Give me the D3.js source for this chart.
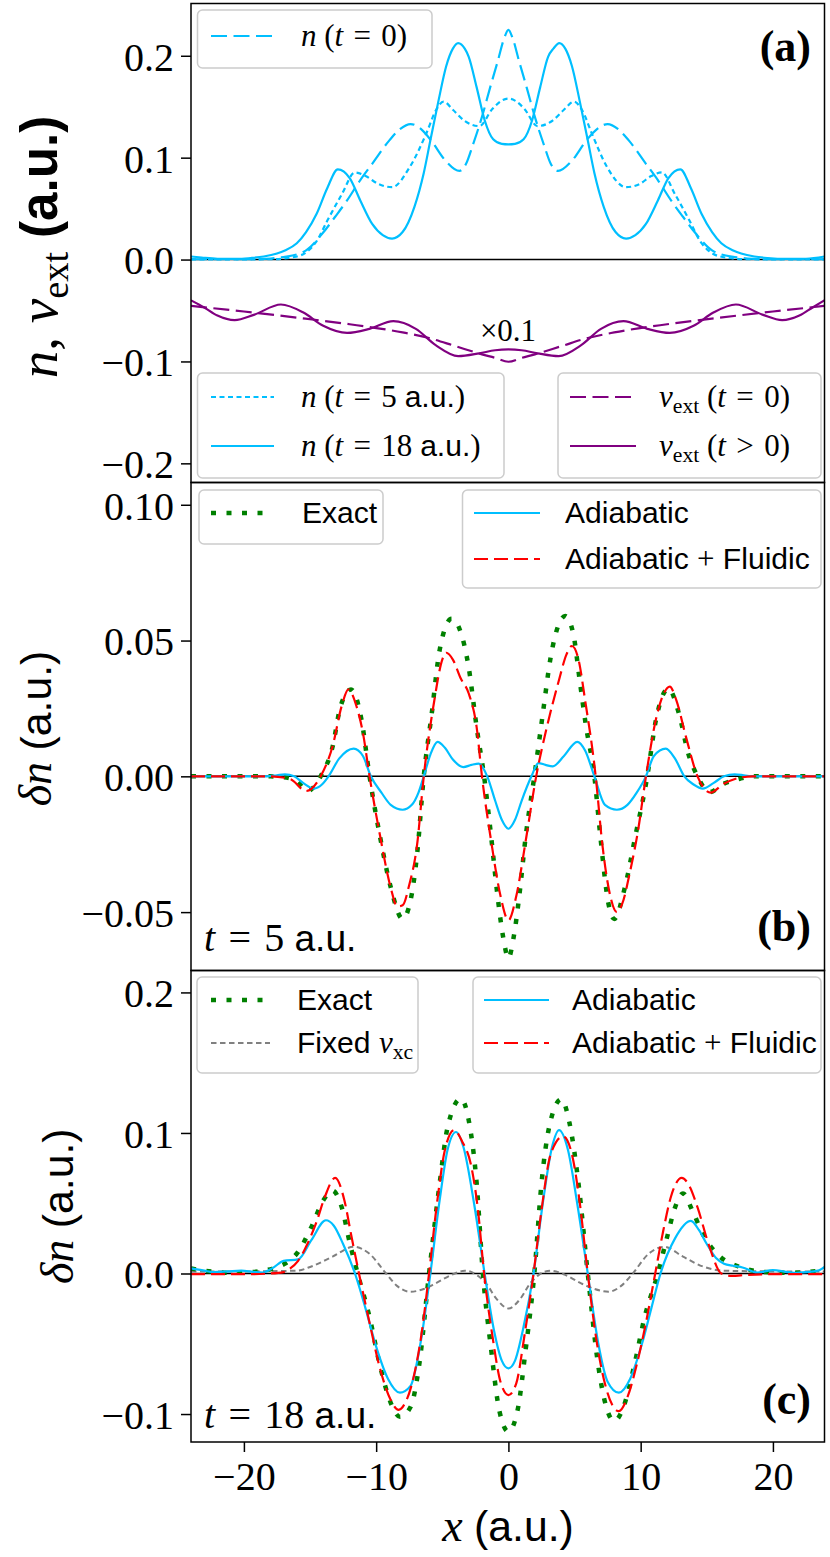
<!DOCTYPE html>
<html><head><meta charset="utf-8">
<script src="https://cdn.jsdelivr.net/npm/d3@7"></script>
<style>body{margin:0;background:#fff}</style>
</head><body>
<svg id="fig" width="830" height="1557" xmlns="http://www.w3.org/2000/svg"></svg>
<script>
// ---------------- DATA ----------------
const xTicks = [-20, -10, 0, 10, 20];
const yTicksA = [-0.2, -0.1, 0, 0.1, 0.2];
const yTicksB = [-0.05, 0, 0.05, 0.1];
const yTicksC = [-0.1, 0, 0.1, 0.2];

// panel (a): densities and external potential (x0.1)
const n0X = [-24,-20,-18,-17,-16,-15.3,-14.1,-13.1,-12.2,-11.2,-10.3,-9.0,-8.2,-7.4,-6.6,-5.85,-4.75,-3.7,-3.2,-2.7,-2.0,-1.4,-0.8,-0.3,0,0.3,0.8,1.4,2.0,2.7,3.2,3.75,4.8,5.9,6.7,7.5,8.3,9.1,10.4,11.3,12.3,13.2,14.2,15.4,16.1,17.1,18.1,20,23.9];
const n0Y = [0.0003,0.0003,0.001,0.0025,0.005,0.009,0.025,0.042,0.058,0.078,0.094,0.117,0.128,0.133,0.128,0.117,0.097,0.087,0.094,0.112,0.14,0.168,0.195,0.218,0.2255,0.218,0.195,0.168,0.14,0.112,0.094,0.087,0.097,0.117,0.128,0.133,0.128,0.117,0.094,0.078,0.058,0.042,0.025,0.009,0.005,0.0025,0.001,0.0003,0.0003];

const n5X = [-24,-18,-16.2,-15.2,-14.5,-13.7,-12.6,-11.6,-10.8,-9.8,-8.8,-7.45,-6.2,-5.5,-4.9,-4.2,-3.3,-2.2,-1.2,-0.5,0,0.5,1.2,2.2,3.3,4.2,4.95,5.6,6.3,7.45,8.9,9.9,10.8,11.6,12.6,13.7,14.5,15.2,16.2,18,23.9];
const n5Y = [0.0002,0.0003,0.0025,0.008,0.018,0.038,0.064,0.0855,0.082,0.074,0.071,0.091,0.124,0.146,0.155,0.147,0.136,0.131,0.148,0.156,0.158,0.156,0.148,0.131,0.136,0.147,0.155,0.146,0.124,0.091,0.071,0.074,0.082,0.0855,0.064,0.038,0.018,0.008,0.0025,0.0003,0.0002];

const n18X = [-24,-23.2,-22,-20.5,-19.5,-18.5,-17.5,-16.9,-16,-15.3,-14.5,-13.7,-12.9,-12.0,-11.2,-10.3,-9.5,-8.8,-8.0,-7.1,-6.4,-5.9,-5.3,-4.7,-4.2,-3.8,-3.3,-3.0,-2.4,-1.8,-1.15,-0.5,0,0.5,1.15,1.8,2.4,3.0,3.4,3.85,4.3,4.8,5.4,6.0,6.5,7.2,8.1,8.9,9.6,10.4,11.3,12.1,13.0,13.8,14.6,15.4,16.1,17.0,17.6,18.6,19.6,21,22.5,23.9];
const n18Y = [0.003,0.002,0.0008,0.0006,0.0015,0.003,0.006,0.009,0.016,0.027,0.045,0.07,0.0886,0.08,0.058,0.035,0.024,0.0206,0.027,0.052,0.085,0.117,0.155,0.19,0.207,0.2124,0.207,0.199,0.169,0.137,0.118,0.1135,0.113,0.1135,0.118,0.137,0.169,0.199,0.207,0.2124,0.207,0.19,0.155,0.117,0.085,0.052,0.027,0.0206,0.024,0.035,0.058,0.08,0.0886,0.07,0.045,0.027,0.016,0.009,0.006,0.003,0.0015,0.0006,0.0008,0.003];

const vext0X = [-24,-20,-16,-12,-8,-6,-4,-2,-1,0,1,2,4,6,8,12,16,20,23.9];
const vext0Y = [-0.0455,-0.051,-0.057,-0.0635,-0.0715,-0.077,-0.085,-0.093,-0.0965,-0.1003,-0.0965,-0.093,-0.085,-0.077,-0.0715,-0.0635,-0.057,-0.051,-0.0455];

const vextX = [-24,-23,-22,-20.7,-19.2,-17.2,-15.5,-14,-12.2,-10.5,-8.7,-7,-5.5,-3.8,-2.2,-1,0,1,2.2,3.8,5.5,7,8.7,10.5,12.2,14,15.5,17.2,19.2,20.7,22,23,23.9];
const vextY = [-0.040,-0.047,-0.055,-0.0595,-0.054,-0.0441,-0.052,-0.065,-0.072,-0.068,-0.0605,-0.068,-0.084,-0.0948,-0.092,-0.089,-0.0882,-0.089,-0.092,-0.0948,-0.084,-0.068,-0.0605,-0.068,-0.072,-0.065,-0.052,-0.0441,-0.054,-0.0595,-0.055,-0.047,-0.040];

// panel (b): t = 5 a.u.
const exactBX = [-24,-18,-17,-16,-15.2,-14.2,-13.3,-12.7,-11.9,-11.1,-10.5,-9.7,-8.9,-8.0,-7.4,-6.9,-6.4,-5.8,-5.2,-4.3,-3.6,-3.0,-2.4,-1.84,-1.3,-0.84,-0.37,0,0.37,0.84,1.3,1.96,2.6,3.2,4.3,4.9,5.4,5.85,6.5,6.95,7.57,8.0,8.8,9.6,10.5,11.15,12.1,12.9,13.6,14.3,15.2,16.3,17.5,18.5,23.9];
const exactBY = [0,0,-0.0003,-0.0018,-0.0054,0,0.0108,0.0256,0.032,0.0206,0,-0.0224,-0.0408,-0.0525,-0.0457,-0.0285,0,0.023,0.0465,0.058,0.053,0.040,0.018,0,-0.0224,-0.0433,-0.060,-0.067,-0.060,-0.0433,-0.0224,0,0.023,0.044,0.059,0.0526,0.035,0.019,0,-0.022,-0.047,-0.0525,-0.041,-0.022,0,0.0206,0.0323,0.023,0.0084,0,-0.0058,-0.0027,-0.0009,0,0];

const adiaBX = [-24,-18.3,-17.5,-16.9,-16.2,-15.5,-14.7,-14.1,-13.6,-12.8,-11.7,-11.0,-10.4,-9.6,-8.9,-8.0,-7.3,-6.8,-6.4,-5.9,-5.36,-4.8,-4.2,-3.4,-2.8,-2.24,-1.6,-1.0,-0.5,0,0.5,1.0,1.74,2.27,2.8,3.36,4.2,5.2,5.8,6.5,7.3,8.2,9.0,9.7,10.4,11.0,11.9,12.6,13.3,14.0,14.7,15.5,16.3,17.1,17.8,18.5,23.9];
const adiaBY = [0,0,0.0004,0.0007,0,-0.0025,-0.0045,-0.003,0,0.0065,0.0102,0.0075,0,-0.006,-0.0105,-0.0123,-0.0105,-0.006,0,0.008,0.0127,0.0105,0.0062,0.0034,0.0042,0.0047,0,-0.009,-0.016,-0.0193,-0.016,-0.009,0,0.0049,0.0042,0.0037,0.0075,0.0127,0.0095,0,-0.0105,-0.0123,-0.0105,-0.006,0,0.0075,0.0102,0.0065,0,-0.003,-0.0045,-0.0025,0,0.0007,0.0004,0,0];

const fluidBX = [-24,-18,-16.5,-15.3,-14.2,-13.3,-12.6,-12.1,-11.5,-11.0,-10.5,-9.7,-8.9,-8.4,-8.0,-7.5,-6.9,-6.4,-5.6,-5.0,-4.7,-4.2,-3.6,-3.0,-2.4,-2.0,-1.3,-0.6,0,0.6,1.3,2.1,2.9,3.8,4.4,4.8,5.3,5.8,6.6,7.1,7.7,8.2,8.6,9.2,9.8,10.4,11.2,11.8,12.2,12.7,13.4,14.3,14.9,15.3,16.2,17.5,18.5,23.9];
const fluidBY = [0,0,-0.001,-0.0054,0,0.011,0.026,0.032,0.026,0.016,0,-0.022,-0.041,-0.048,-0.0475,-0.04,-0.025,0,0.028,0.043,0.0455,0.043,0.036,0.0305,0.018,0,-0.024,-0.044,-0.053,-0.044,-0.024,0,0.018,0.035,0.045,0.048,0.043,0.028,0,-0.025,-0.044,-0.050,-0.047,-0.035,-0.02,0,0.022,0.031,0.033,0.028,0.015,0,-0.005,-0.006,-0.003,-0.0005,0,0];

// panel (c): t = 18 a.u.
const exactCX = [-24,-23,-22,-21,-19.5,-18.5,-17.5,-16.9,-15.9,-14.9,-14.0,-13.3,-12.6,-12.0,-11.4,-10.5,-9.7,-8.9,-8.2,-7.4,-6.76,-6.0,-5.2,-4.6,-3.6,-3.0,-2.4,-1.93,-1.3,-0.7,0,0.7,1.3,1.96,2.5,3.1,4.0,4.6,5.3,6.0,6.8,7.4,8.0,8.7,9.5,10.3,11.3,12.0,12.6,13.2,13.9,14.7,16.0,17.4,19.4,21,22.5,23.9];
const exactCY = [0.0036,0.002,0.001,0.0005,0.001,0.002,0.0045,0.007,0.0154,0.033,0.052,0.059,0.047,0.022,0,-0.031,-0.066,-0.092,-0.102,-0.095,-0.066,0,0.064,0.104,0.1244,0.109,0.064,0,-0.0545,-0.097,-0.1125,-0.097,-0.0545,0,0.064,0.105,0.124,0.108,0.064,0,-0.066,-0.095,-0.105,-0.095,-0.066,-0.031,0,0.026,0.047,0.057,0.045,0.028,0.012,0.005,0.001,0.0005,0.001,0.0024];

const fixedCX = [-24,-20,-17,-16,-14.9,-13.3,-11.7,-10.5,-9.25,-8.4,-7.4,-6.4,-5.5,-4.3,-3.3,-2.4,-1.7,-0.9,0,0.9,1.65,2.3,3.2,4.3,5.5,6.5,7.57,8.5,9.4,10.6,11.8,13.2,14.7,16.3,20,23.9];
const fixedCY = [0.0015,0.0015,0.0018,0.002,0.005,0.012,0.019,0.014,0,-0.009,-0.013,-0.011,-0.007,-0.001,0.002,-0.001,-0.007,-0.018,-0.0249,-0.018,-0.007,-0.001,0.002,-0.001,-0.007,-0.011,-0.013,-0.009,0,0.014,0.019,0.012,0.005,0.002,0.0015,0.0015];

const adiaCX = [-24,-23,-22.3,-21.2,-20.2,-19.3,-18.6,-17.8,-17.0,-15.9,-14.9,-13.8,-13.2,-12.5,-11.6,-10.8,-10.0,-9.1,-8.2,-7.4,-6.6,-5.9,-5.2,-4.6,-3.96,-3.4,-2.6,-1.8,-1.1,-0.5,0,0.5,1.1,1.9,2.6,3.3,3.83,4.5,5.2,6.0,6.8,7.5,8.35,9.2,10.1,10.8,11.5,12.6,13.8,14.4,15.0,15.7,16.3,17.0,17.7,18.8,20.0,21.0,21.6,22.5,23.4,23.9];
const adiaCY = [0.0036,0.002,0.001,0.0015,0.002,0.0012,0.0007,0.004,0.009,0.010,0.0237,0.0379,0.034,0.021,0,-0.025,-0.052,-0.075,-0.0848,-0.080,-0.047,0,0.052,0.088,0.1007,0.09,0.05,0,-0.04,-0.062,-0.0675,-0.062,-0.04,0,0.05,0.09,0.102,0.088,0.05,0,-0.05,-0.077,-0.0848,-0.075,-0.05,-0.025,0,0.025,0.0374,0.031,0.021,0.011,0.007,0.0055,0.0043,0.0007,0.0024,0.0012,0.0005,0.001,0.002,0.0047];

const fluidCX = [-24,-20,-18,-17,-16.6,-15.9,-15.2,-14.5,-13.9,-13.1,-12.4,-11.9,-11.3,-10.5,-9.7,-8.9,-8.3,-7.8,-7.2,-6.6,-6.0,-5.4,-4.8,-4.1,-3.5,-2.8,-2.3,-1.84,-1.2,-0.6,0,0.6,1.2,1.9,2.5,3.2,4.14,4.8,5.4,6.0,6.7,7.4,8.35,9.0,9.7,10.4,11.1,11.7,12.3,13.1,13.7,14.3,15.2,16.1,16.9,18,20,23.9];
const fluidCY = [-0.0005,-0.0005,0,0.001,0.003,0.009,0.021,0.037,0.054,0.068,0.052,0.028,0,-0.035,-0.068,-0.09,-0.097,-0.092,-0.075,-0.045,0,0.05,0.088,0.102,0.094,0.076,0.045,0,-0.045,-0.077,-0.0865,-0.078,-0.045,0,0.045,0.085,0.0976,0.085,0.05,0,-0.05,-0.082,-0.098,-0.088,-0.065,-0.035,0,0.03,0.055,0.068,0.062,0.047,0.019,0,-0.0017,-0.001,-0.0005,-0.0005];

// ---------------- STYLE / LAYOUT ----------------
const SERIF = "'Liberation Serif','DejaVu Serif',serif";
const SANS = "'Liberation Sans','DejaVu Sans',sans-serif";
const L = 191, R = 824.5;
const STY = {
  cyanSolid:   {stroke:'#00bfff', w:2.2, dash:null},
  cyanDash:    {stroke:'#00bfff', w:2.2, dash:'16,6.5'},
  cyanDot:     {stroke:'#00bfff', w:2.2, dash:'5,3.5'},
  purpleSolid: {stroke:'#800080', w:2.2, dash:null},
  purpleDash:  {stroke:'#800080', w:2.2, dash:'16,6.5'},
  green:       {stroke:'#008000', w:4.5, dash:'5,10.5'},
  red:         {stroke:'#ff0000', w:2.2, dash:'14,6'},
  gray:        {stroke:'#808080', w:2, dash:'5.5,3.5'}
};

const svg = d3.select('#fig');
svg.append('rect').attr('width',830).attr('height',1557).attr('fill','#fff');
const x = d3.scaleLinear().domain([-24, 23.9]).range([L, R]);

function rich(g, px, py, parts, fs, opt = {}) {
  const t = g.append('text').attr('x', px).attr('y', py)
    .attr('font-size', fs).attr('fill', '#000').style('white-space', 'pre');
  if (opt.anchor) t.attr('text-anchor', opt.anchor);
  if (opt.rotate) t.attr('transform', `rotate(-90,${px},${py})`);
  const sfScale = opt.sfScale || 0.93;
  let shift = 0;
  parts.forEach(([k, s]) => {
    const sp = t.append('tspan').text(s);
    let size = fs, dy;
    if (k === 'sub') { size = fs * 0.7; dy = fs * 0.2 - shift; shift = fs * 0.2; }
    else { dy = -shift; shift = 0; }
    if (k === 'sf' || k === 'sfb') size = fs * sfScale;
    if (dy) sp.attr('dy', dy);
    sp.attr('font-size', size)
      .attr('font-family', (k === 'sf' || k === 'sfb') ? SANS : SERIF)
      .attr('font-style', k === 'mi' ? 'italic' : 'normal')
      .attr('font-weight', (k === 'sfb' || k === 'bf') ? 'bold' : 'normal');
  });
  return t;
}

function styled(sel, s) {
  sel.attr('fill', 'none').attr('stroke', s.stroke).attr('stroke-width', s.w);
  if (s.dash) sel.attr('stroke-dasharray', s.dash);
  return sel;
}

function panel(cfg) {
  const g = svg.append('g');
  const y = d3.scaleLinear().domain(cfg.domain).range([cfg.bottom, cfg.top]);
  const cid = 'clip' + cfg.id;
  svg.append('clipPath').attr('id', cid).append('rect')
    .attr('x', L).attr('y', cfg.top).attr('width', R - L).attr('height', cfg.bottom - cfg.top);
  const plot = g.append('g').attr('clip-path', `url(#${cid})`);
  plot.append('line').attr('x1', L).attr('x2', R).attr('y1', y(0)).attr('y2', y(0))
    .attr('stroke', '#000').attr('stroke-width', 1.5);
  const line = d3.line().x(d => x(d[0])).y(d => y(d[1])).curve(d3.curveMonotoneX);
  cfg.series.forEach(s => {
    styled(plot.append('path').attr('d', line(d3.zip(s.xs, s.ys))), STY[s.style])
      .attr('stroke-linejoin', 'round');
  });
  const ax = g.append('g').attr('transform', `translate(${L},0)`)
    .call(d3.axisLeft(y).tickValues(cfg.ticks).tickFormat(d3.format(cfg.fmt)).tickSize(10).tickPadding(7));
  ax.select('.domain').remove();
  ax.selectAll('line').attr('stroke', '#000').attr('stroke-width', 1.5);
  ax.selectAll('text').attr('font-family', SERIF).attr('font-size', 40).attr('fill', '#000').attr('dy', '0.36em');
  cfg.legends.forEach(lg => {
    const [x1, y1, x2, y2] = lg.box;
    g.append('rect').attr('x', x1).attr('y', y1).attr('width', x2 - x1).attr('height', y2 - y1)
      .attr('rx', 5).attr('fill', '#fff').attr('fill-opacity', 0.8)
      .attr('stroke', '#cccccc').attr('stroke-width', 1.5);
    lg.entries.forEach(e => {
      styled(g.append('line').attr('x1', lg.lx[0]).attr('x2', lg.lx[1]).attr('y1', e.y).attr('y2', e.y), STY[e.style]);
      rich(g, lg.tx, e.y + 10, e.label, 31, {sfScale: 0.97});
    });
  });
  g.append('rect').attr('x', L).attr('y', cfg.top).attr('width', R - L).attr('height', cfg.bottom - cfg.top)
    .attr('fill', 'none').attr('stroke', '#000').attr('stroke-width', 1.5);
  rich(g, 811, cfg.letterY, [['bf', cfg.letter]], 44, {anchor: 'end'});
  rich(g, cfg.ylab.x, (cfg.top + cfg.bottom) / 2 + cfg.ylab.dy, cfg.ylab.parts, cfg.ylab.fs, {anchor: 'middle', rotate: true});
  return {g, y};
}

// Panel (a)
const pa = panel({
  id: 'a', top: 3.5, bottom: 482.5, domain: [-0.2188, 0.2513], ticks: yTicksA, fmt: '.1f',
  series: [
    {xs: n0X, ys: n0Y, style: 'cyanDash'},
    {xs: n5X, ys: n5Y, style: 'cyanDot'},
    {xs: n18X, ys: n18Y, style: 'cyanSolid'},
    {xs: vext0X, ys: vext0Y, style: 'purpleDash'},
    {xs: vextX, ys: vextY, style: 'purpleSolid'}
  ],
  legends: [
    {box: [197.5, 10, 432, 68], lx: [211, 274], tx: 301, entries: [
      {y: 36, style: 'cyanDash', label: [['mi','n'],['rm',' ('],['mi','t'],['rm','\u2004=\u20040)']]}]},
    {box: [197.5, 373, 504, 478], lx: [211, 274], tx: 301, entries: [
      {y: 397, style: 'cyanDot', label: [['mi','n'],['rm',' ('],['mi','t'],['rm','\u2004=\u20045 '],['sf','a.u.'],['rm',')']]},
      {y: 446, style: 'cyanSolid', label: [['mi','n'],['rm',' ('],['mi','t'],['rm','\u2004=\u200418 '],['sf','a.u.'],['rm',')']]}]},
    {box: [558, 373, 821, 478], lx: [570, 636], tx: 659, entries: [
      {y: 397, style: 'purpleDash', label: [['mi','v'],['sub','ext'],['rm',' ('],['mi','t'],['rm','\u2004=\u20040)']]},
      {y: 446, style: 'purpleSolid', label: [['mi','v'],['sub','ext'],['rm',' ('],['mi','t'],['rm','\u2004>\u20040)']]}]}
  ],
  letter: '(a)', letterY: 61,
  ylab: {x: 57, dy: 4, fs: 55, parts: [['mi','n'],['rm',', '],['mi','v'],['sub','ext'],['rm',' '],['sfb','(a.u.)']]}
});
rich(pa.g, 508, 341, [['rm','×0.1']], 31, {anchor: 'middle'});

// Panel (b)
const pb = panel({
  id: 'b', top: 482.5, bottom: 970.5, domain: [-0.0715, 0.1082], ticks: yTicksB, fmt: '.2f',
  series: [
    {xs: exactBX, ys: exactBY, style: 'green'},
    {xs: adiaBX, ys: adiaBY, style: 'cyanSolid'},
    {xs: fluidBX, ys: fluidBY, style: 'red'}
  ],
  legends: [
    {box: [199, 490, 383, 544], lx: [211, 265], tx: 302, entries: [
      {y: 513, style: 'green', label: [['sf','Exact']]}]},
    {box: [462.5, 490, 821, 588], lx: [474, 540], tx: 565, entries: [
      {y: 513, style: 'cyanSolid', label: [['sf','Adiabatic']]},
      {y: 559, style: 'red', label: [['sf','Adiabatic '],['rm','+'],['sf',' Fluidic']]}]}
  ],
  letter: '(b)', letterY: 941,
  ylab: {x: 51, dy: 2, fs: 46, parts: [['mi','δn'],['rm',' '],['sf','(a.u.)']]}
});
rich(pb.g, 204, 951, [['mi','t'],['rm','\u2004=\u20045 '],['sf','a.u.']], 40);

// Panel (c)
const pc = panel({
  id: 'c', top: 970.5, bottom: 1442, domain: [-0.1199, 0.2156], ticks: yTicksC, fmt: '.1f',
  series: [
    {xs: fixedCX, ys: fixedCY, style: 'gray'},
    {xs: exactCX, ys: exactCY, style: 'green'},
    {xs: adiaCX, ys: adiaCY, style: 'cyanSolid'},
    {xs: fluidCX, ys: fluidCY, style: 'red'}
  ],
  legends: [
    {box: [197, 977, 418, 1073], lx: [211, 270], tx: 297, entries: [
      {y: 1000, style: 'green', label: [['sf','Exact']]},
      {y: 1043, style: 'gray', label: [['sf','Fixed '],['mi','v'],['sub','xc']]}]},
    {box: [473, 977, 821, 1073], lx: [484, 549], tx: 572, entries: [
      {y: 1000, style: 'cyanSolid', label: [['sf','Adiabatic']]},
      {y: 1043, style: 'red', label: [['sf','Adiabatic '],['rm','+'],['sf',' Fluidic']]}]}
  ],
  letter: '(c)', letterY: 1414,
  ylab: {x: 73, dy: 0, fs: 46, parts: [['mi','δn'],['rm',' '],['sf','(a.u.)']]}
});
rich(pc.g, 204, 1428, [['mi','t'],['rm','\u2004=\u200418 '],['sf','a.u.']], 40);

// x axis
const xa = svg.append('g').attr('transform', 'translate(0,1442)')
  .call(d3.axisBottom(x).tickValues(xTicks).tickFormat(d3.format('d')).tickSize(10).tickPadding(10));
xa.select('.domain').remove();
xa.selectAll('line').attr('stroke', '#000').attr('stroke-width', 1.5);
xa.selectAll('text').attr('font-family', SERIF).attr('font-size', 40).attr('fill', '#000');
rich(svg, 508, 1541, [['mi','x'],['rm',' '],['sf','(a.u.)']], 46, {anchor: 'middle'});
</script>
</body></html>
